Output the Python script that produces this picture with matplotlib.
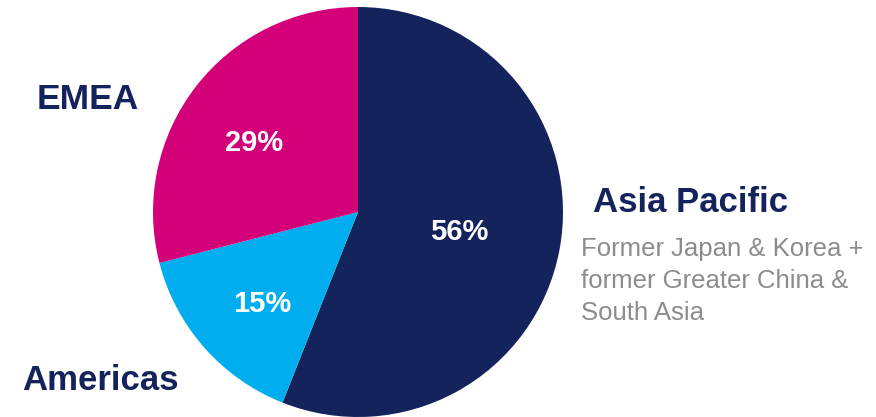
import matplotlib.pyplot as plt

regions = ['Asia Pacific', 'Americas', 'EMEA']
shares = [56, 15, 29]
colors = ['#14235b', '#00aeef', '#d4007a']
pct_labels = ['56%', '15%', '29%']
note = 'Former Japan & Korea +\nformer Greater China &\nSouth Asia'

plt.rcParams['font.family'] = ['Liberation Sans', 'DejaVu Sans']

W, H = 876, 417
fig = plt.figure(figsize=(W / 100, H / 100), dpi=100)
ax = fig.add_axes([0, 0, 1, 1])
ax.set_xlim(0, W)
ax.set_ylim(0, H)
ax.set_aspect('equal')
ax.axis('off')

# pie drawn in pixel coords, clockwise from the top
wedges, _ = ax.pie(shares, colors=colors, startangle=90, counterclock=False,
                   center=(358, H - 212), radius=205,
                   wedgeprops=dict(linewidth=0))
ax.set_xlim(0, W)
ax.set_ylim(0, H)

# percentage labels inside the slices
pct_pos = [(459, 232), (262, 304), (254, 143)]
for txt, (x, y) in zip(pct_labels, pct_pos):
    ax.text(x, H - y, txt, color='white', fontsize=21, fontweight='bold',
            ha='center', va='center')

navy = colors[0]
ax.text(22, H - 381, regions[1], color=navy, fontsize=25, fontweight='bold',
        ha='left', va='center')
ax.text(37, H - 99, regions[2], color=navy, fontsize=25.5, fontweight='bold',
        ha='left', va='center')
ax.text(593, H - 202, regions[0], color=navy, fontsize=25, fontweight='bold',
        ha='left', va='center')
ax.text(581, H - 281, note, color='#8c8c8c', fontsize=18.5,
        ha='left', va='center', linespacing=1.4)

fig.savefig('out.png', dpi=100)
